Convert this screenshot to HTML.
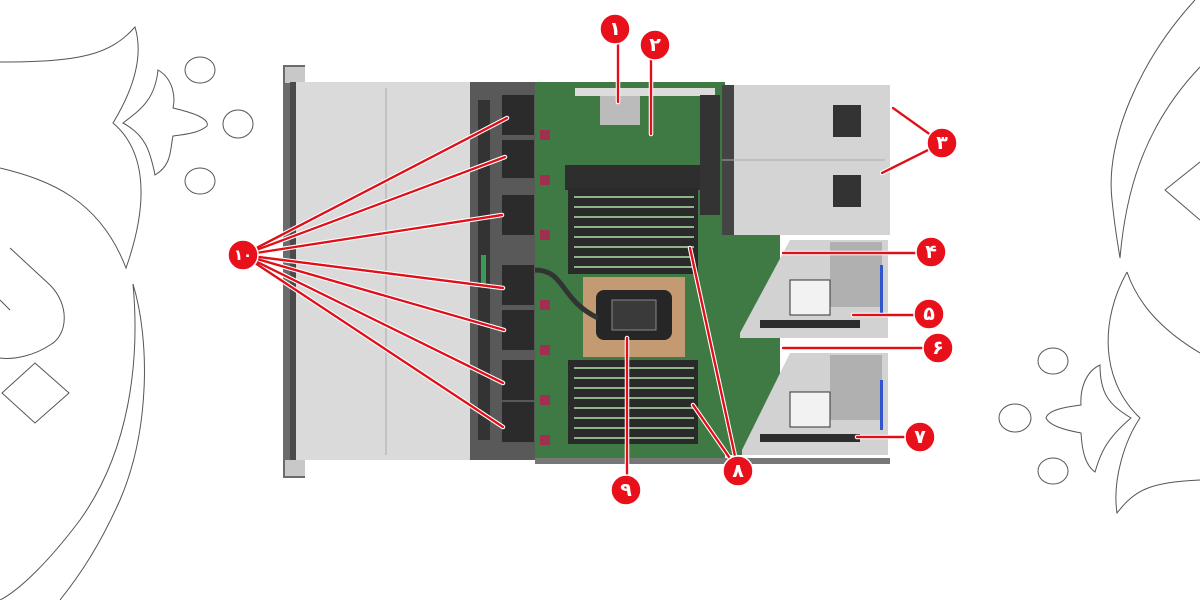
<!DOCTYPE html>
<html><head><meta charset="utf-8"><style>
html,body{margin:0;padding:0;background:#fff;width:1200px;height:600px;overflow:hidden}
svg{display:block}
.d{fill:none;stroke:#555;stroke-width:1}
.lw{stroke:#fff;stroke-width:4.5;fill:none;stroke-linecap:round}
.lr{stroke:#e0101a;stroke-width:2.2;fill:none;stroke-linecap:round}
.c{fill:#e8101a;stroke:#fff;stroke-width:1.5}
.t{fill:#fff;font-family:"DejaVu Sans",sans-serif;font-weight:bold;font-size:19px;text-anchor:middle;dominant-baseline:central}
</style></head><body>
<svg width="1200" height="600" viewBox="0 0 1200 600" xmlns="http://www.w3.org/2000/svg">
<!-- left decor -->
<path class="d" d="M0,62 C80,62 110,55 135,27 C145,60 130,95 113,123 C145,150 150,200 126,268 C100,200 50,180 0,168"/>
<path class="d" d="M158,70 C175,80 175,100 173,108 C190,112 210,118 207,126 C200,132 190,134 173,136 C170,150 172,165 155,175 C150,150 145,135 123,123 C140,110 155,100 158,70Z"/>
<ellipse class="d" cx="200" cy="70" rx="15" ry="13"/>
<ellipse class="d" cx="238" cy="124" rx="15" ry="14"/>
<ellipse class="d" cx="200" cy="181" rx="15" ry="13"/>
<path class="d" d="M10,248 L50,285 C70,305 68,335 50,345 C35,355 15,360 0,358"/>
<path class="d" d="M0,300 L10,310"/>
<path class="d" d="M35,363 L69,393 L35,423 L2,393Z"/>
<path class="d" d="M133,284 C150,340 150,430 120,500 C100,545 80,575 60,600"/>
<path class="d" d="M133,284 C140,360 130,450 80,520 C50,560 20,590 0,600"/>
<!-- right decor -->
<path class="d" d="M1195,0 C1140,60 1105,140 1112,200 C1115,230 1118,245 1120,258 C1125,200 1140,130 1200,67"/>
<path class="d" d="M1200,162 L1165,190 L1200,220"/>
<path class="d" d="M1127,272 C1140,310 1170,335 1200,353"/>
<path class="d" d="M1127,272 C1100,320 1100,380 1140,418 C1125,440 1112,480 1117,513 C1135,490 1150,482 1200,480"/>
<path class="d" d="M1100,365 C1085,372 1080,390 1081,405 C1065,407 1048,410 1046,418 C1050,426 1065,430 1081,433 C1082,450 1085,465 1095,472 C1100,455 1105,440 1131,418 C1110,405 1100,395 1100,365Z"/>
<ellipse class="d" cx="1053" cy="361" rx="15" ry="13"/>
<ellipse class="d" cx="1015" cy="418" rx="16" ry="14"/>
<ellipse class="d" cx="1053" cy="471" rx="15" ry="13"/>
<!-- chassis front -->
<rect x="283" y="65" width="22" height="413" fill="#6b6b6b"/>
<rect x="285" y="67" width="20" height="16" fill="#c8c8c8"/>
<rect x="285" y="460" width="20" height="16" fill="#c8c8c8"/>
<rect x="290" y="82" width="180" height="378" fill="#dadada"/>
<rect x="290" y="82" width="6" height="378" fill="#4a4a4a"/>
<line x1="386" y1="88" x2="386" y2="455" stroke="#aaa"/>
<rect x="470" y="82" width="65" height="378" fill="#595959"/>
<rect x="478" y="100" width="12" height="340" fill="#333"/>
<rect x="481" y="255" width="5" height="30" fill="#3a9a5a"/>
<g fill="#2b2b2b">
<rect x="502" y="95" width="32" height="40"/><rect x="502" y="140" width="32" height="38"/>
<rect x="502" y="195" width="32" height="40"/><rect x="502" y="265" width="32" height="40"/>
<rect x="502" y="310" width="32" height="40"/><rect x="502" y="360" width="32" height="40"/>
<rect x="502" y="402" width="32" height="40"/>
</g>
<!-- motherboard -->
<rect x="535" y="82" width="190" height="378" fill="#3f7a45"/>
<g fill="#a03050"><rect x="540" y="130" width="10" height="10"/><rect x="540" y="175" width="10" height="10"/><rect x="540" y="230" width="10" height="10"/><rect x="540" y="300" width="10" height="10"/><rect x="540" y="345" width="10" height="10"/><rect x="540" y="395" width="10" height="10"/><rect x="540" y="435" width="10" height="10"/></g>
<path d="M565,165 L700,165 L700,190 L565,190Z" fill="#2e2e2e"/>
<rect x="568" y="188" width="130" height="86" fill="#2a2a2a"/>
<g stroke="#8fb48a" stroke-width="2">
<line x1="574" y1="197" x2="694" y2="197"/><line x1="574" y1="207" x2="694" y2="207"/><line x1="574" y1="217" x2="694" y2="217"/><line x1="574" y1="227" x2="694" y2="227"/><line x1="574" y1="237" x2="694" y2="237"/><line x1="574" y1="247" x2="694" y2="247"/><line x1="574" y1="257" x2="694" y2="257"/><line x1="574" y1="267" x2="694" y2="267"/>
</g>
<rect x="568" y="360" width="130" height="84" fill="#2a2a2a"/>
<g stroke="#8fb48a" stroke-width="2">
<line x1="574" y1="368" x2="694" y2="368"/><line x1="574" y1="378" x2="694" y2="378"/><line x1="574" y1="388" x2="694" y2="388"/><line x1="574" y1="398" x2="694" y2="398"/><line x1="574" y1="408" x2="694" y2="408"/><line x1="574" y1="418" x2="694" y2="418"/><line x1="574" y1="428" x2="694" y2="428"/><line x1="574" y1="438" x2="694" y2="438"/>
</g>
<rect x="583" y="277" width="102" height="80" fill="#c49a72"/>
<rect x="596" y="290" width="76" height="50" rx="8" fill="#262626"/>
<rect x="612" y="300" width="44" height="30" fill="#3a3a3a" stroke="#888"/>
<path d="M535,270 C565,270 560,300 598,318" stroke="#333" stroke-width="5" fill="none"/>
<rect x="600" y="95" width="40" height="30" fill="#bbb"/>
<rect x="575" y="88" width="140" height="8" fill="#dcdcdc"/>
<rect x="700" y="95" width="20" height="120" fill="#333"/>
<!-- PSU cage -->
<rect x="722" y="85" width="168" height="150" fill="#d4d4d4"/>
<rect x="722" y="85" width="12" height="150" fill="#444"/>
<rect x="833" y="105" width="28" height="32" fill="#333"/>
<rect x="833" y="175" width="28" height="32" fill="#333"/>
<line x1="722" y1="160" x2="885" y2="160" stroke="#aaa"/>
<!-- riser cages -->
<rect x="725" y="235" width="55" height="220" fill="#3f7a45"/>
<path d="M740,333 L790,240 L888,240 L888,338 L740,338Z" fill="#d2d2d2"/>
<rect x="830" y="242" width="52" height="65" fill="#9a9a9a" opacity=".6"/>
<rect x="790" y="280" width="40" height="35" fill="#f2f2f2" stroke="#333"/>
<rect x="760" y="320" width="100" height="8" fill="#2d2d2d"/>
<path d="M742,450 L790,353 L888,353 L888,455 L742,455Z" fill="#d2d2d2"/>
<rect x="830" y="355" width="52" height="65" fill="#9a9a9a" opacity=".6"/>
<rect x="790" y="392" width="40" height="35" fill="#f2f2f2" stroke="#333"/>
<rect x="760" y="434" width="100" height="8" fill="#2d2d2d"/>
<rect x="880" y="265" width="3" height="50" fill="#3355cc"/>
<rect x="880" y="380" width="3" height="50" fill="#3355cc"/>
<rect x="535" y="458" width="355" height="6" fill="#777"/>
<!-- callout lines -->
<g id="L">
<line x1="243" y1="255" x2="507" y2="118"/><line x1="243" y1="255" x2="505" y2="157"/>
<line x1="243" y1="255" x2="502" y2="215"/><line x1="243" y1="255" x2="503" y2="288"/>
<line x1="243" y1="255" x2="504" y2="330"/><line x1="243" y1="255" x2="503" y2="383"/>
<line x1="243" y1="255" x2="503" y2="427"/>
<line x1="618" y1="30" x2="618" y2="102"/><line x1="651" y1="45" x2="651" y2="134"/>
<line x1="942" y1="143" x2="893" y2="108"/><line x1="942" y1="143" x2="882" y2="173"/>
<line x1="930" y1="253" x2="783" y2="253"/><line x1="928" y1="315" x2="853" y2="315"/>
<line x1="938" y1="348" x2="783" y2="348"/><line x1="918" y1="437" x2="857" y2="437"/>
<line x1="738" y1="470" x2="690" y2="248"/><line x1="738" y1="470" x2="693" y2="405"/>
<line x1="627" y1="490" x2="627" y2="338"/>
</g>
<use href="#L" class="lw"/>
<use href="#L" class="lr"/>
<g class="lr"><line x1="243" y1="255" x2="507" y2="118"/><line x1="243" y1="255" x2="505" y2="157"/>
<line x1="243" y1="255" x2="502" y2="215"/><line x1="243" y1="255" x2="503" y2="288"/>
<line x1="243" y1="255" x2="504" y2="330"/><line x1="243" y1="255" x2="503" y2="383"/>
<line x1="243" y1="255" x2="503" y2="427"/>
<line x1="618" y1="30" x2="618" y2="102"/><line x1="651" y1="45" x2="651" y2="134"/>
<line x1="942" y1="143" x2="893" y2="108"/><line x1="942" y1="143" x2="882" y2="173"/>
<line x1="930" y1="253" x2="783" y2="253"/><line x1="928" y1="315" x2="853" y2="315"/>
<line x1="938" y1="348" x2="783" y2="348"/><line x1="918" y1="437" x2="857" y2="437"/>
<line x1="738" y1="470" x2="690" y2="248"/><line x1="738" y1="470" x2="693" y2="405"/>
<line x1="627" y1="490" x2="627" y2="338"/></g>
<!-- circles -->
<circle class="c" cx="615" cy="29" r="15"/><text class="t" x="615" y="29">۱</text>
<circle class="c" cx="655" cy="45" r="15"/><text class="t" x="655" y="45">۲</text>
<circle class="c" cx="942" cy="143" r="15"/><text class="t" x="942" y="143">۳</text>
<circle class="c" cx="931" cy="252" r="15"/><text class="t" x="931" y="252">۴</text>
<circle class="c" cx="929" cy="314" r="15"/><text class="t" x="929" y="314">۵</text>
<circle class="c" cx="938" cy="348" r="15"/><text class="t" x="938" y="348">۶</text>
<circle class="c" cx="920" cy="437" r="15"/><text class="t" x="920" y="437">۷</text>
<circle class="c" cx="738" cy="471" r="15"/><text class="t" x="738" y="471">۸</text>
<circle class="c" cx="626" cy="490" r="15"/><text class="t" x="626" y="490">۹</text>
<circle class="c" cx="243" cy="255" r="15"/><text class="t" x="243" y="255" style="font-size:15px">۱۰</text>
</svg>
</body></html>
